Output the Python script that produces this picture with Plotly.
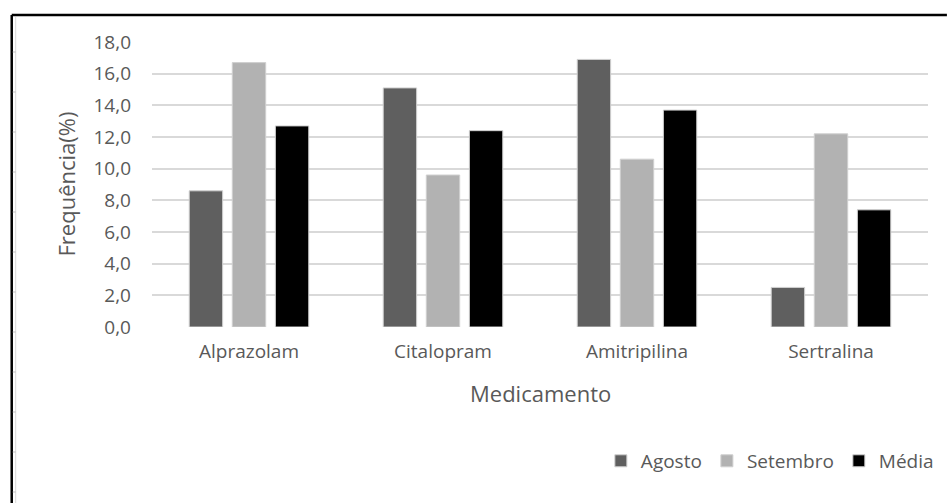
import plotly.graph_objects as go

# Medicamentos e frequências (%) por mês
medicamentos = ["Alprazolam", "Citalopram", "Amitripilina", "Sertralina"]
agosto = [8.6, 15.1, 16.9, 2.5]
setembro = [16.7, 9.6, 10.6, 12.2]
media = [12.7, 12.4, 13.7, 7.4]

y_ticks = [0, 2, 4, 6, 8, 10, 12, 14, 16, 18]

FONT = "Open Sans"
TXT = "#595959"
W, H = 951, 503
L, R, T, B = 152, 19, 42, 176

fig = go.Figure()
series = [("Agosto", agosto, "#5f5f5f"),
          ("Setembro", setembro, "#b2b2b2"),
          ("Média", media, "#000000")]
for name, vals, color in series:
    fig.add_trace(go.Bar(
        x=medicamentos, y=vals, name=name,
        marker=dict(color=color, line=dict(color="#d0d0d0", width=1)),
    ))

fig.update_layout(
    width=W, height=H,
    margin=dict(l=L, r=R, t=T, b=B),
    paper_bgcolor="white", plot_bgcolor="white",
    separators=",.",
    barmode="group", bargap=0.334, bargroupgap=0.224,
    font=dict(family=FONT, color=TXT, size=19),
    showlegend=True,
    legend=dict(orientation="h", x=1.014, xanchor="right", y=-0.47, yanchor="middle",
                font=dict(size=19, color=TXT), itemwidth=30,
                traceorder="normal", bgcolor="rgba(0,0,0,0)"),
    xaxis=dict(showgrid=False, showline=False, zeroline=False, ticks="",
               tickfont=dict(size=19, color=TXT), ticklabelstandoff=11),
    yaxis=dict(range=[0, 18], tickvals=y_ticks, tickformat=".1f",
               showgrid=True, gridcolor="#d9d9d9", gridwidth=1.5,
               zeroline=False, showline=False, ticks="",
               tickfont=dict(size=19, color=TXT), ticklabelstandoff=20),
)

# Axis titles
fig.add_annotation(text="Frequência(%)", xref="paper", yref="paper",
                   x=0, y=0.5, xshift=65 - L, textangle=-90, showarrow=False,
                   font=dict(size=22, color=TXT), xanchor="center", yanchor="middle")
fig.add_annotation(text="Medicamento", xref="paper", yref="paper",
                   x=0.5, y=0, yshift=-(393 - (H - B)), showarrow=False,
                   font=dict(size=22, color=TXT), xanchor="center", yanchor="middle")

# Chart frame: thick border on the left and top, thin inner rule with marks
fig.add_shape(type="line", xref="paper", yref="paper",
              x0=(11 - L) / (W - L - R), x1=(W - L) / (W - L - R),
              y0=(H - B - 15) / (H - T - B), y1=(H - B - 15) / (H - T - B),
              line=dict(color="black", width=2.5))
fig.add_shape(type="line", xref="paper", yref="paper",
              x0=(11 - L) / (W - L - R), x1=(11 - L) / (W - L - R),
              y0=(H - B - 15) / (H - T - B), y1=-(H - (H - B)) / (H - T - B),
              line=dict(color="black", width=2.5))
fig.add_shape(type="line", xref="paper", yref="paper",
              x0=(15 - L) / (W - L - R), x1=(15 - L) / (W - L - R),
              y0=(H - B - 17) / (H - T - B), y1=-(H - (H - B)) / (H - T - B),
              line=dict(color="#d9d9d9", width=1))
for py in range(52, 503, 40):
    yy = ((H - B) - py) / (H - T - B)
    fig.add_shape(type="line", xref="paper", yref="paper",
                  x0=(12 - L) / (W - L - R), x1=(15 - L) / (W - L - R),
                  y0=yy, y1=yy, line=dict(color="#bfbfbf", width=1))

fig.write_html("out.html")
